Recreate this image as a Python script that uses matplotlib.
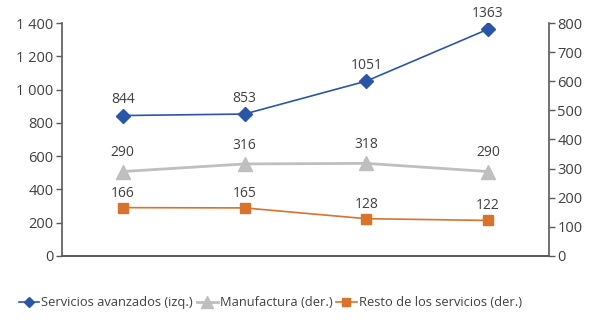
import matplotlib.pyplot as plt

plt.rcParams['font.family'] = ['Open Sans', 'DejaVu Sans']

# data
periodos = [0, 1, 2, 3]
servicios_avanzados = [844, 853, 1051, 1363]
manufactura = [290, 316, 318, 290]
resto_servicios = [166, 165, 128, 122]

left_ticks = [0, 200, 400, 600, 800, 1000, 1200, 1400]
left_labels = ['0', '200', '400', '600', '800', '1 000', '1 200', '1 400']
right_ticks = [0, 100, 200, 300, 400, 500, 600, 700, 800]

azul = '#2B56A8'
gris = '#BFBFBF'
naranja = '#D9732C'
texto = '#404040'
eje = '#595959'

fig = plt.figure(figsize=(5.89, 3.29), dpi=100)
ax = fig.add_axes([0.105, 0.222, 0.827, 0.708])
ax2 = ax.twinx()

l1, = ax.plot(periodos, servicios_avanzados, color=azul, lw=1.2, marker='D', ms=7,
              label='Servicios avanzados (izq.)')
l2, = ax2.plot(periodos, manufactura, color=gris, lw=2, marker='^', ms=10,
               label='Manufactura (der.)')
l3, = ax2.plot(periodos, resto_servicios, color=naranja, lw=1.2, marker='s', ms=7,
               label='Resto de los servicios (der.)')

for x, v in zip(periodos, servicios_avanzados):
    ax.annotate(str(v), (x, v), xytext=(0, 6), textcoords='offset points',
                ha='center', va='bottom', fontsize=10, color=texto)
for x, v in zip(periodos, manufactura):
    ax2.annotate(str(v), (x, v), xytext=(0, 8), textcoords='offset points',
                 ha='center', va='bottom', fontsize=10, color=texto)
for x, v in zip(periodos, resto_servicios):
    ax2.annotate(str(v), (x, v), xytext=(0, 5), textcoords='offset points',
                 ha='center', va='bottom', fontsize=10, color=texto)

ax.set_xlim(-0.5, 3.5)
ax.set_ylim(0, 1400)
ax2.set_ylim(0, 800)
ax.set_xticks([])
ax.set_yticks(left_ticks)
ax.set_yticklabels(left_labels)
ax2.set_yticks(right_ticks)

for a in (ax, ax2):
    a.spines['top'].set_visible(False)
    for s in a.spines.values():
        s.set_color(eje)
        s.set_linewidth(1.2)
    a.tick_params(axis='y', colors=eje, labelcolor=texto, labelsize=10.5, length=4, width=1, pad=2)
ax.spines['right'].set_visible(False)
ax2.spines['left'].set_visible(False)

fig.legend(handles=[l1, l2, l3], loc='center left', bbox_to_anchor=(0.012, 0.08), ncol=3,
           frameon=False, fontsize=9.3, labelcolor=texto, handlelength=1.6,
           handletextpad=0.15, columnspacing=0.3, markerscale=0.8)

fig.savefig('out.png', dpi=100)
